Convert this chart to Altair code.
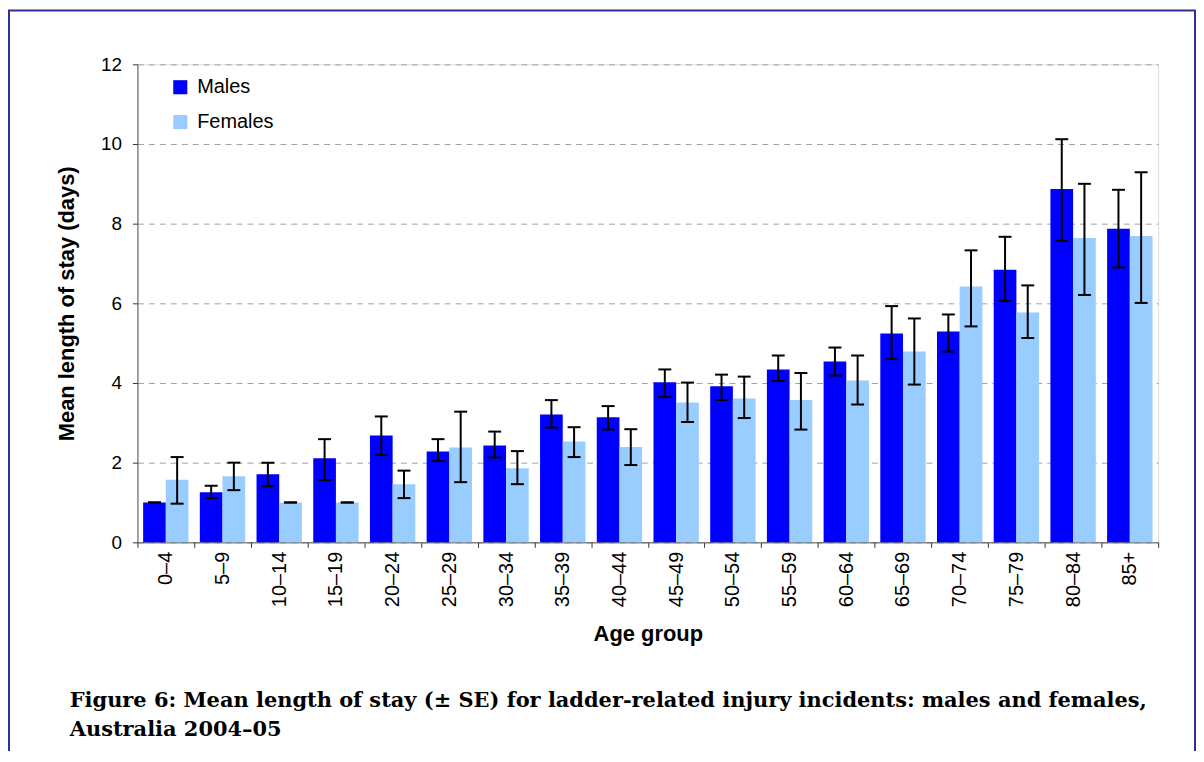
import altair as alt
import pandas as pd

ages = ["0–4", "5–9", "10–14", "15–19", "20–24", "25–29", "30–34", "35–39", "40–44",
        "45–49", "50–54", "55–59", "60–64", "65–69", "70–74", "75–79", "80–84", "85+"]
male_mean = [1.0, 1.26, 1.71, 2.11, 2.68, 2.28, 2.43, 3.21, 3.14, 4.02, 3.92, 4.34, 4.54, 5.24, 5.29, 6.84, 8.87, 7.87]
male_lo = [1.0, 1.11, 1.41, 1.56, 2.19, 2.04, 2.13, 2.88, 2.83, 3.65, 3.57, 4.05, 4.19, 4.60, 4.79, 6.06, 7.57, 6.90]
male_hi = [1.0, 1.42, 2.0, 2.59, 3.16, 2.59, 2.78, 3.57, 3.42, 4.34, 4.21, 4.69, 4.89, 5.93, 5.72, 7.67, 10.12, 8.85]
female_mean = [1.57, 1.66, 1.0, 1.0, 1.46, 2.38, 1.86, 2.53, 2.39, 3.51, 3.61, 3.57, 4.06, 4.79, 6.42, 5.77, 7.64, 7.69]
female_lo = [0.97, 1.31, 1.0, 1.0, 1.11, 1.51, 1.46, 2.14, 1.94, 3.02, 3.12, 2.83, 3.46, 3.96, 5.42, 5.13, 6.21, 6.01]
female_hi = [2.14, 2.0, 1.0, 1.0, 1.80, 3.28, 2.29, 2.89, 2.84, 4.01, 4.16, 4.25, 4.69, 5.62, 7.33, 6.45, 9.0, 9.29]
sexes = ["Males", "Females"]
colors = ["#0000FF", "#99CCFF"]
y_ticks = [0, 2, 4, 6, 8, 10, 12]
caption = ["Figure 6: Mean length of stay (± SE) for ladder-related injury incidents: males and females,",
           "Australia 2004–05"]

rows = []
for i, a in enumerate(ages):
    rows.append({"age": a, "sex": "Males", "mean": male_mean[i], "lo": male_lo[i], "hi": male_hi[i]})
    rows.append({"age": a, "sex": "Females", "mean": female_mean[i], "lo": female_lo[i], "hi": female_hi[i]})
df = pd.DataFrame(rows)

FONT = "Liberation Sans"

x_enc = alt.X("age:N", sort=ages, title="Age group",
              scale=alt.Scale(paddingInner=0, paddingOuter=0),
              axis=alt.Axis(labelAngle=-90, tickBand="extent", labelFontSize=20, labelFont=FONT,
                            labelColor="black", titleFont=FONT, titleFontSize=22, titleFontWeight="bold",
                            titleColor="black", titlePadding=17, tickSize=5, labelPadding=4,
                            domainColor="#555555", tickColor="#333333", grid=False))
xoff = alt.XOffset("sex:N", sort=sexes, scale=alt.Scale(paddingInner=0, paddingOuter=0.25))

bars = alt.Chart(df).mark_bar().encode(
    x=x_enc,
    xOffset=xoff,
    y=alt.Y("mean:Q", title="Mean length of stay (days)",
            scale=alt.Scale(domain=[0, 12], nice=False),
            axis=alt.Axis(values=y_ticks, labelFontSize=19, labelFont=FONT, labelColor="black",
                          titleFont=FONT, titleFontSize=22, titleFontWeight="bold", titleColor="black",
                          titlePadding=22, tickSize=5, labelPadding=11, domainColor="#555555",
                          tickColor="#333333", grid=True, gridDash=[6, 5], gridColor="#a0a0a0",
                          gridWidth=1)),
    color=alt.Color("sex:N", sort=sexes, scale=alt.Scale(domain=sexes, range=colors),
                    legend=alt.Legend(title=None, orient="none", legendX=33, legendY=13,
                                      symbolType="square", symbolSize=200, symbolStrokeWidth=0,
                                      symbolOpacity=1, labelFontSize=20, labelFont=FONT,
                                      labelColor="black", rowPadding=15, labelOffset=7, padding=0)),
)

rules = alt.Chart(df).mark_rule(color="black", strokeWidth=2).encode(
    x=alt.X("age:N", sort=ages), xOffset=xoff, y="lo:Q", y2="hi:Q")
caps_hi = alt.Chart(df).mark_tick(color="black", thickness=2, size=13, opacity=1).encode(
    x=alt.X("age:N", sort=ages), xOffset=xoff, y="hi:Q")
caps_lo = alt.Chart(df).mark_tick(color="black", thickness=2, size=13, opacity=1).encode(
    x=alt.X("age:N", sort=ages), xOffset=xoff, y="lo:Q")

border = alt.Chart(pd.DataFrame({"k": [0]})).mark_rect(
    fill=None, stroke="#2e3192", strokeWidth=2).encode(
    x=alt.value(-129), x2=alt.value(1062), y=alt.value(-54), y2=alt.value(700))

chart = alt.layer(border, bars, rules, caps_hi, caps_lo).properties(
    width=1025, height=480,
    padding={"left": 130, "top": 55, "right": 38, "bottom": 208},
    autosize=alt.AutoSizeParams(type="none"),
    title=alt.TitleParams(text=caption, orient="bottom", anchor="start", frame="group",
                          dx=-68, offset=-73, font="DejaVu Serif", fontSize=21,
                          fontWeight="bold", color="black", lineHeight=30),
).configure_view(stroke=None).configure(background="white")

chart.save("out.html", embed_options={"renderer": "svg", "actions": False})
